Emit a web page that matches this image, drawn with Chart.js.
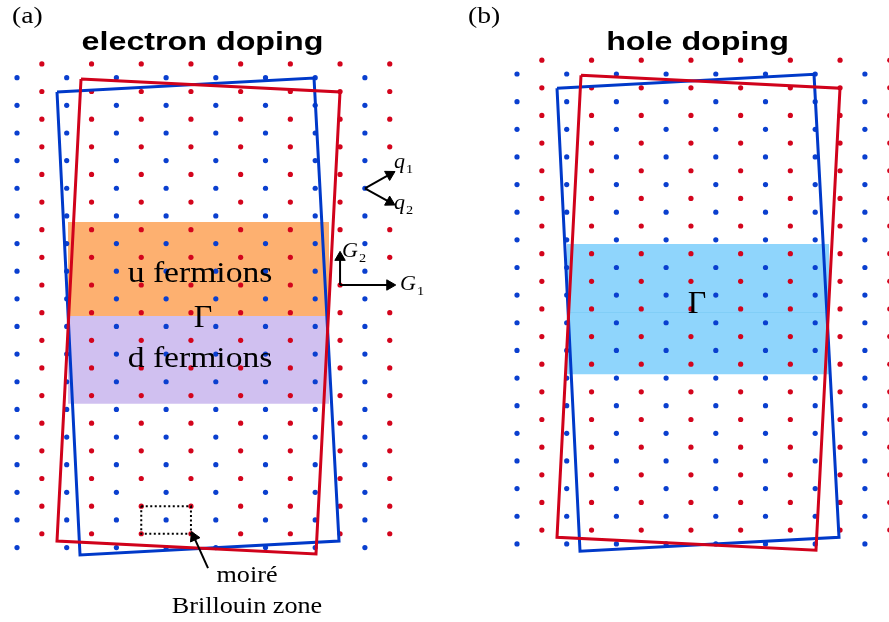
<!DOCTYPE html>
<html>
<head>
<meta charset="utf-8">
<script src="https://cdn.jsdelivr.net/npm/chart.js@4/dist/chart.umd.min.js"></script>
<style>
  body { margin: 0; background: #fff; }
  #wrap { position: relative; width: 889px; height: 622px; }
  canvas { position: absolute; top: 0; }
  #panelA { left: 0; }
  #panelB { left: 444px; }
</style>
</head>
<body>
<div id="wrap">
  <canvas id="panelA" width="444" height="622"></canvas>
  <canvas id="panelB" width="445" height="622"></canvas>
</div>
<script>
// lattice units: x counts G1 steps, y counts half-G2 rows (going down)
const blueCols = [0, 1, 2, 3, 4, 5, 6, 7];
const blueRows = [0, 1, 2, 3, 4, 5, 6, 7, 8, 9, 10, 11, 12, 13, 14, 15, 16, 17];
const redCols = [0.5, 1.5, 2.5, 3.5, 4.5, 5.5, 6.5, 7.5];
const redRows = [-0.5, 0.5, 1.5, 2.5, 3.5, 4.5, 5.5, 6.5, 7.5, 8.5, 9.5, 10.5, 11.5, 12.5, 13.5, 14.5, 15.5, 16.5];

// rotated Brillouin zones of the two layers (corners, clockwise)
const blueZone = [[0.805, 0.517], [5.976, 0.011], [6.479, 16.762], [1.268, 17.268]];
const redZone = [[1.288, 0.047], [6.499, 0.517], [6.016, 17.232], [0.805, 16.762]];

// moire Brillouin zone
const moireCell = [[2.5, 15.5], [3.5, 15.5], [3.5, 16.5], [2.5, 16.5]];

// arrows: [from, to]
const arrowsA = [
    [[7, 4], [7.5, 3.5]],          // q1
    [[7, 4], [7.5, 4.5]],          // q2
    [[6.5, 7.5], [6.5, 6.5]],      // G2
    [[6.5, 7.5], [7.5, 7.5]],      // G1
    [[3.843, 17.74], [3.561, 16.62]] // pointer to moire zone
];

// filled bands: [xLeft, xRight, yTop, yBottom]
const bandsA = [
    [1.026, 6.278, 5.22, 8.62],   // u fermions
    [1.026, 6.278, 8.62, 11.8]    // d fermions
];
const bandsB = [
    [1.006, 6.278, 6.155, 8.61],
    [1.006, 6.278, 8.61, 10.86]
];

const textsA = [
    { text: '(a)', at: [-0.10, -1.98], kind: 'tag' },
    { text: 'electron doping', at: [3.732, -0.99], kind: 'title' },
    { text: 'u fermions', at: [3.682, 7.39], kind: 'big' },
    { text: 'd fermions', at: [3.682, 10.45], kind: 'big' },
    { text: 'Γ', at: [3.742, 9.02], kind: 'gamma' },
    { text: 'q', sub: '1', at: [7.585, 3.267], kind: 'vec' },
    { text: 'q', sub: '2', at: [7.585, 4.75], kind: 'vec' },
    { text: 'G', sub: '2', at: [6.539, 6.49], kind: 'vec' },
    { text: 'G', sub: '1', at: [7.706, 7.68], kind: 'vec' },
    { text: 'moiré', at: [4.628, 18.245], kind: 'note' },
    { text: 'Brillouin zone', at: [4.628, 19.37], kind: 'note' }
];
const textsB = [
    { text: '(b)', at: [-0.986, -1.845], kind: 'tag' },
    { text: 'hole doping', at: [3.632, -0.87], kind: 'title' },
    { text: 'Γ', at: [3.622, 8.647], kind: 'gamma' }
];

const RED = '#d3041c';
const BLUE = '#0a3fcf';
const LINE_RED = '#d0021b';
const LINE_BLUE = '#0039c9';

const textStyles = {
    tag: { font: '24px "Liberation Serif"', align: 'left', sx: 1.15 },
    title: { font: 'bold 25px "Liberation Sans"', align: 'center', sx: 1.29 },
    big: { font: '30px "Liberation Serif"', align: 'center', sx: 1.12 },
    gamma: { font: '32px "Liberation Serif"', align: 'center', sx: 1.0 },
    vec: { font: 'italic 20px "Liberation Serif"', align: 'left', sx: 1.1, subFont: '13px "Liberation Serif"' },
    note: { font: '24px "Liberation Serif"', align: 'center', sx: 1.09 }
};

const toPts = list => list.map(p => ({ x: p[0], y: p[1] }));
const grid = (cols, rows) => rows.flatMap(r => cols.map(c => ({ x: c, y: r })));

function arrowAngle(ctx) {
    const d = ctx.dataset.data;
    const sx = ctx.chart.scales.x, sy = ctx.chart.scales.y;
    const dx = sx.getPixelForValue(d[1].x) - sx.getPixelForValue(d[0].x);
    const dy = sy.getPixelForValue(d[1].y) - sy.getPixelForValue(d[0].y);
    return Math.atan2(dx, -dy) * 180 / Math.PI;
}

function latticeDatasets() {
    return [
        { data: toPts([...redZone, redZone[0]]), borderColor: LINE_RED, borderWidth: 3, pointRadius: 0, order: 2 },
        { data: toPts([...blueZone, blueZone[0]]), borderColor: LINE_BLUE, borderWidth: 3, pointRadius: 0, order: 3 },
        { data: grid(blueCols, blueRows), showLine: false, pointRadius: 2.6, pointBorderWidth: 0, pointBackgroundColor: BLUE, order: 5 },
        { data: grid(redCols, redRows), showLine: false, pointRadius: 2.6, pointBorderWidth: 0, pointBackgroundColor: RED, order: 5 }
    ];
}

function bandDatasets(bands, colors, seams) {
    return bands.map((b, i) => ({
        data: [{ x: b[0], y: b[2] }, { x: b[1], y: b[2] }],
        fill: { value: b[3] },
        backgroundColor: colors[i],
        borderColor: seams[i] || 'rgba(0,0,0,0)',
        borderWidth: seams[i] ? 1 : 0,
        pointRadius: 0,
        order: 10
    }));
}

function arrowDatasets(arrows) {
    return arrows.map(a => ({
        data: toPts(a),
        borderColor: '#000',
        borderWidth: 2,
        pointStyle: 'triangle',
        pointRadius: ctx => ctx.dataIndex === 1 ? 6 : 0,
        pointRotation: arrowAngle,
        pointBackgroundColor: '#000',
        pointBorderColor: '#000',
        pointBorderWidth: 1,
        order: 1
    }));
}

function textPlugin(items) {
    return {
        id: 'panelText',
        afterDraw(chart) {
            const ctx = chart.ctx;
            const sx = chart.scales.x, sy = chart.scales.y;
            items.forEach(it => {
                const st = textStyles[it.kind];
                const px = sx.getPixelForValue(it.at[0]);
                const py = sy.getPixelForValue(it.at[1]);
                ctx.save();
                ctx.fillStyle = '#000';
                ctx.textBaseline = 'alphabetic';
                ctx.translate(px, py);
                ctx.scale(st.sx, 1);
                ctx.font = st.font;
                ctx.textAlign = st.align;
                ctx.fillText(it.text, 0, 0);
                if (it.sub) {
                    const w = ctx.measureText(it.text).width;
                    ctx.font = st.subFont;
                    ctx.textAlign = 'left';
                    ctx.fillText(it.sub, w + 1, 5);
                }
                ctx.restore();
            });
        }
    };
}

function makePanel(id, xRange, yRange, datasets, texts) {
    return new Chart(document.getElementById(id), {
        type: 'line',
        data: { datasets },
        options: {
            responsive: false,
            animation: false,
            devicePixelRatio: 1,
            layout: { padding: 0, autoPadding: false },
            elements: { line: { tension: 0 } },
            plugins: { legend: { display: false }, tooltip: { enabled: false } },
            scales: {
                x: { type: 'linear', display: false, bounds: 'data', min: xRange[0], max: xRange[1] },
                y: { type: 'linear', display: false, bounds: 'data', reverse: true, min: yRange[0], max: yRange[1] }
            }
        },
        plugins: [textPlugin(texts)]
    });
}

makePanel('panelA', [-0.3421, 8.5915], [-2.811, 19.692], [
    ...arrowDatasets(arrowsA),
    { data: toPts([...moireCell, moireCell[0]]), borderColor: '#000', borderWidth: 2, borderDash: [2, 2.5], pointRadius: 0, order: 1 },
    ...latticeDatasets(),
    ...bandDatasets(bandsA, ['#fdb070', '#d0c0f0'], [null, null])
], textsA);

makePanel('panelB', [-1.4688, 7.485], [-2.677, 19.826], [
    ...latticeDatasets(),
    ...bandDatasets(bandsB, ['#8fd5fc', '#8fd5fc'], [null, '#74c5f3'])
], textsB);
</script>
</body>
</html>
